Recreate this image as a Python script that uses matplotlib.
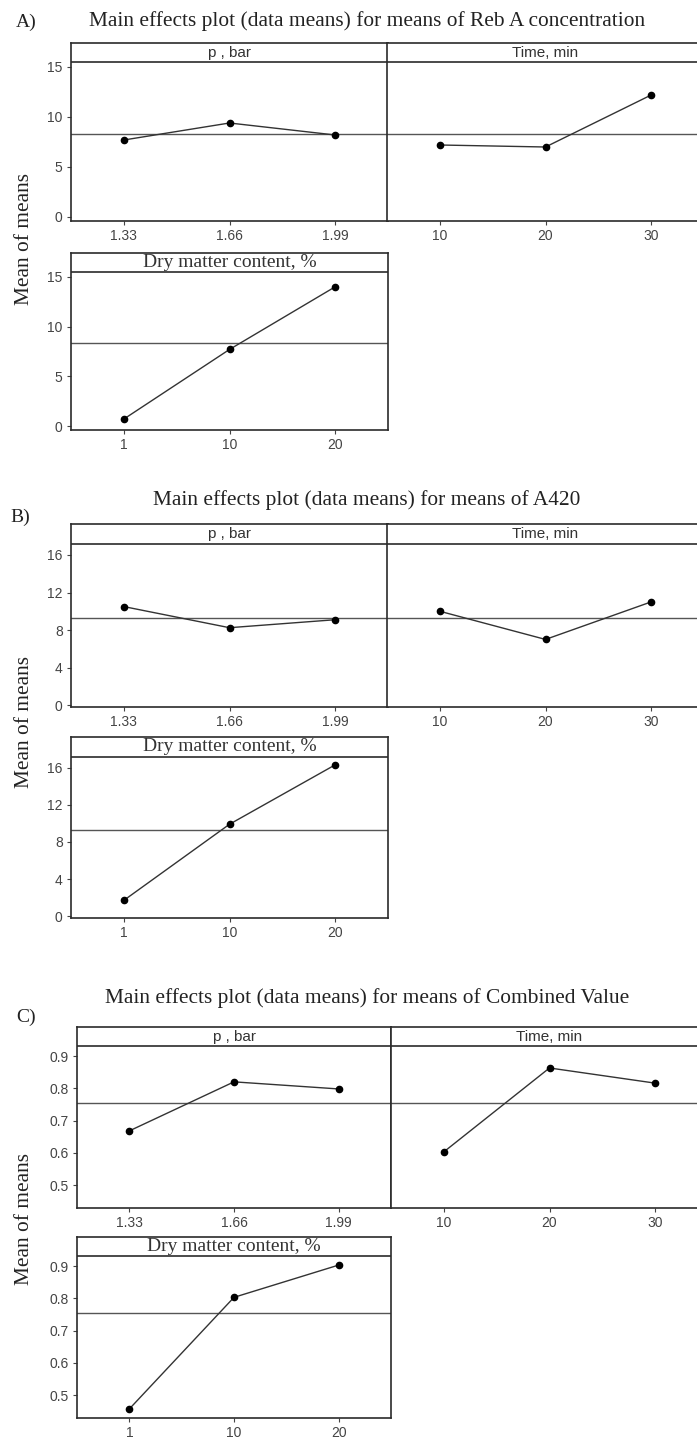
import matplotlib
matplotlib.use("Agg")
import matplotlib.pyplot as plt
import matplotlib.transforms as mtransforms

# ── data ──────────────────────────────────────────────────────────────────────
p_levels = ["1.33", "1.66", "1.99"]
time_levels = ["10", "20", "30"]
dry_levels = ["1", "10", "20"]

# A) Reb A concentration
rebA_p = [7.7, 9.4, 8.2]
rebA_time = [7.2, 7.0, 12.2]
rebA_dry = [0.7, 7.7, 14.0]
rebA_mean = 8.35

# B) A420
a420_p = [10.5, 8.25, 9.1]
a420_time = [10.0, 7.0, 11.0]
a420_dry = [1.7, 9.9, 16.3]
a420_mean = 9.25

# C) Combined Value
comb_p = [0.668, 0.820, 0.798]
comb_time = [0.603, 0.863, 0.816]
comb_dry = [0.457, 0.803, 0.903]
comb_mean = 0.755

W, H = 697, 1441
SERIF = "Liberation Serif"
SANS = "Liberation Sans"
DARK = "#2b2b2b"

fig = plt.figure(figsize=(W / 100, H / 100), dpi=100)


def px_axes(x0, y0, x1, y1):
    return fig.add_axes([x0 / W, 1 - y1 / H, (x1 - x0) / W, (y1 - y0) / H])


def panel(box, levels, values, mean, ylim, strip, yticks, header, serif_header=False,
          show_y=True, yfmt="{:g}"):
    ax = px_axes(*box)
    x = range(len(levels))
    ax.axhline(mean, color="#555555", lw=1.0, zorder=1)
    ax.axhline(strip, color=DARK, lw=1.2, zorder=2)
    ax.plot(x, values, color="#333333", lw=1.0, marker="o", ms=4.5,
            mfc="black", mec="black", zorder=3)
    ax.set_xlim(-0.5, 2.5)
    ax.set_ylim(*ylim)
    ax.set_xticks(list(x))
    ax.set_xticklabels(levels, fontfamily=SANS, fontsize=10, color="#444444")
    if show_y:
        ax.set_yticks(yticks)
        ax.set_yticklabels([yfmt.format(v) for v in yticks], fontfamily=SANS,
                           fontsize=10, color="#444444")
    else:
        ax.set_yticks([])
    ax.tick_params(direction="out", length=3, width=0.8, color="#444444", pad=3)
    for s in ax.spines.values():
        s.set_color(DARK)
        s.set_linewidth(1.2)
    trans = mtransforms.blended_transform_factory(ax.transAxes, ax.transData)
    if serif_header:
        ax.text(0.5, (strip + ylim[1]) / 2, header, transform=trans, ha="center",
                va="center", fontfamily=SERIF, fontsize=14, color="#333333")
    else:
        ax.text(0.5, (strip + ylim[1]) / 2, header, transform=trans, ha="center",
                va="center", fontfamily=SANS, fontsize=11, color="#333333")
    return ax


def block(tag, tag_xy, title, title_y, rows, p_vals, t_vals, d_vals, mean, ylim, strip,
          yticks, ylab_y, yfmt="{:g}"):
    (top_box, time_box, dry_box) = rows
    fig.text(tag_xy[0] / W, 1 - tag_xy[1] / H, tag, fontfamily=SERIF, fontsize=14,
             ha="left", va="center", color="#222222")
    fig.text(367 / W, 1 - title_y / H, title, fontfamily=SERIF, fontsize=15.4,
             ha="center", va="center", color="#222222")
    panel(top_box, p_levels, p_vals, mean, ylim, strip, yticks, "p , bar", yfmt=yfmt)
    panel(time_box, time_levels, t_vals, mean, ylim, strip, yticks, "Time, min",
          show_y=False)
    panel(dry_box, dry_levels, d_vals, mean, ylim, strip, yticks,
          "Dry matter content, %", serif_header=True, yfmt=yfmt)
    fig.text(25 / W, 1 - ylab_y / H, "Mean of means", fontfamily=SERIF, fontsize=15.4,
             rotation=90, ha="center", va="center", color="#222222")


block("A)", (16, 22), "Main effects plot (data means) for means of Reb A concentration", 21,
      [(71, 43, 388, 221), (387, 43, 704, 221), (71, 253, 388, 430)],
      rebA_p, rebA_time, rebA_dry, rebA_mean, (-0.4, 17.4), 15.45, [0, 5, 10, 15], 239)

block("B)", (10, 517), "Main effects plot (data means) for means of A420", 500,
      [(71, 524, 388, 707), (387, 524, 704, 707), (71, 737, 388, 918)],
      a420_p, a420_time, a420_dry, a420_mean, (-0.2, 19.3), 17.15, [0, 4, 8, 12, 16], 722)

block("C)", (16, 1017), "Main effects plot (data means) for means of Combined Value", 998,
      [(77, 1027, 391, 1208), (391, 1027, 708, 1208), (77, 1237, 391, 1418)],
      comb_p, comb_time, comb_dry, comb_mean, (0.429, 0.99), 0.931,
      [0.5, 0.6, 0.7, 0.8, 0.9], 1219, yfmt="{:.1f}")

fig.savefig("out.png", dpi=100)
